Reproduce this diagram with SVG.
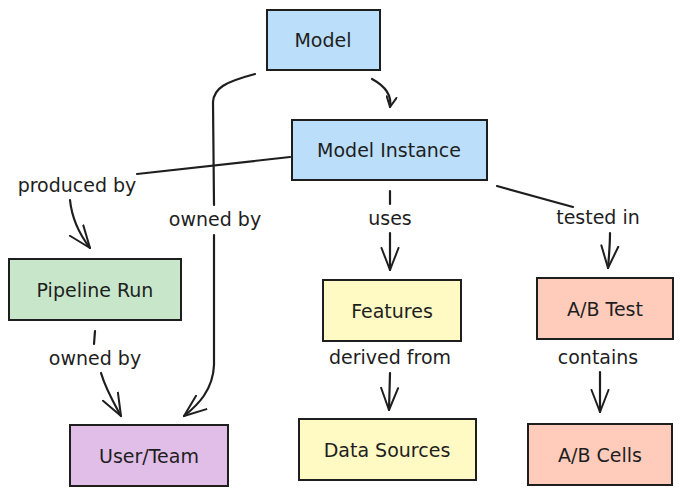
<svg xmlns="http://www.w3.org/2000/svg" width="682" height="496" viewBox="0 0 682 496">
<defs>
<marker id="ah" markerUnits="userSpaceOnUse" viewBox="0 0 24 20" refX="23" refY="10" markerWidth="24" markerHeight="20" orient="auto">
<path d="M1,1.5 L23,10 L1,18.5" fill="none" stroke="#1e1e1e" stroke-width="2" stroke-linecap="round" stroke-linejoin="round"/>
</marker>
<marker id="ahs" markerUnits="userSpaceOnUse" viewBox="0 0 12 12" refX="11" refY="6" markerWidth="12" markerHeight="12" orient="auto">
<path d="M1,1 L11,6 L1,11" fill="none" stroke="#1e1e1e" stroke-width="2" stroke-linecap="round" stroke-linejoin="round"/>
</marker>
<style>
.box{stroke:#1e1e1e;stroke-width:2}
.t{font-family:"DejaVu Sans",sans-serif;font-size:19px;fill:#1e1e1e;text-anchor:middle}
.c{fill:none;stroke:#1e1e1e;stroke-width:2.2;stroke-linecap:round;stroke-linejoin:round}
</style>
</defs>
<rect width="682" height="496" fill="#ffffff"/>
<g id="connectors">
<path class="c" d="M372,79 C385,86 392,95 390,107" marker-end="url(#ahs)"/>
<path class="c" d="M255,74 C225,82 214,88 213,102 L214,205"/>
<path class="c" d="M214,235 L214,365 C213,390 198,405 184,416" marker-end="url(#ah)"/>
<path class="c" d="M290,157 L137,174"/>
<path class="c" d="M70,200 C72,220 80,235 90,248" marker-end="url(#ah)"/>
<path class="c" d="M390,191 L390,204"/>
<path class="c" d="M390,233 L390,270" marker-end="url(#ah)"/>
<path class="c" d="M497,186 L573,207"/>
<path class="c" d="M610,233 C610,245 609,256 608,268" marker-end="url(#ah)"/>
<path class="c" d="M95,331 L94,344"/>
<path class="c" d="M101,373 C106,390 115,405 121,416" marker-end="url(#ah)"/>
<path class="c" d="M390,373 L389,410" marker-end="url(#ah)"/>
<path class="c" d="M600,372 L600,412" marker-end="url(#ah)"/>
<text class="t" x="77" y="192">produced by</text>
<text class="t" x="215" y="226">owned by</text>
<text class="t" x="390" y="225">uses</text>
<text class="t" x="598" y="224">tested in</text>
<text class="t" x="95" y="365">owned by</text>
<text class="t" x="390" y="364">derived from</text>
<text class="t" x="598" y="364">contains</text>
</g>
<g id="model">
<rect class="box" x="267" y="10" width="113" height="60" fill="#bbdefb"/>
<text class="t" x="323" y="47">Model</text>
</g>
<g id="model-instance">
<rect class="box" x="292" y="120" width="195" height="60" fill="#bbdefb"/>
<text class="t" x="389" y="157">Model Instance</text>
</g>
<g id="pipeline-run">
<rect class="box" x="9" y="259" width="172" height="61" fill="#c8e6c9"/>
<text class="t" x="95" y="297">Pipeline Run</text>
</g>
<g id="features">
<rect class="box" x="323" y="280" width="138" height="61" fill="#fff9c4"/>
<text class="t" x="392" y="318">Features</text>
</g>
<g id="ab-test">
<rect class="box" x="537" y="278" width="136" height="61" fill="#ffccbc"/>
<text class="t" x="605" y="316">A/B Test</text>
</g>
<g id="user-team">
<rect class="box" x="70" y="425" width="158" height="61" fill="#e1bee7"/>
<text class="t" x="149" y="463">User/Team</text>
</g>
<g id="data-sources">
<rect class="box" x="299" y="419" width="177" height="61" fill="#fff9c4"/>
<text class="t" x="387" y="457">Data Sources</text>
</g>
<g id="ab-cells">
<rect class="box" x="528" y="424" width="144" height="61" fill="#ffccbc"/>
<text class="t" x="600" y="462">A/B Cells</text>
</g>
</svg>
